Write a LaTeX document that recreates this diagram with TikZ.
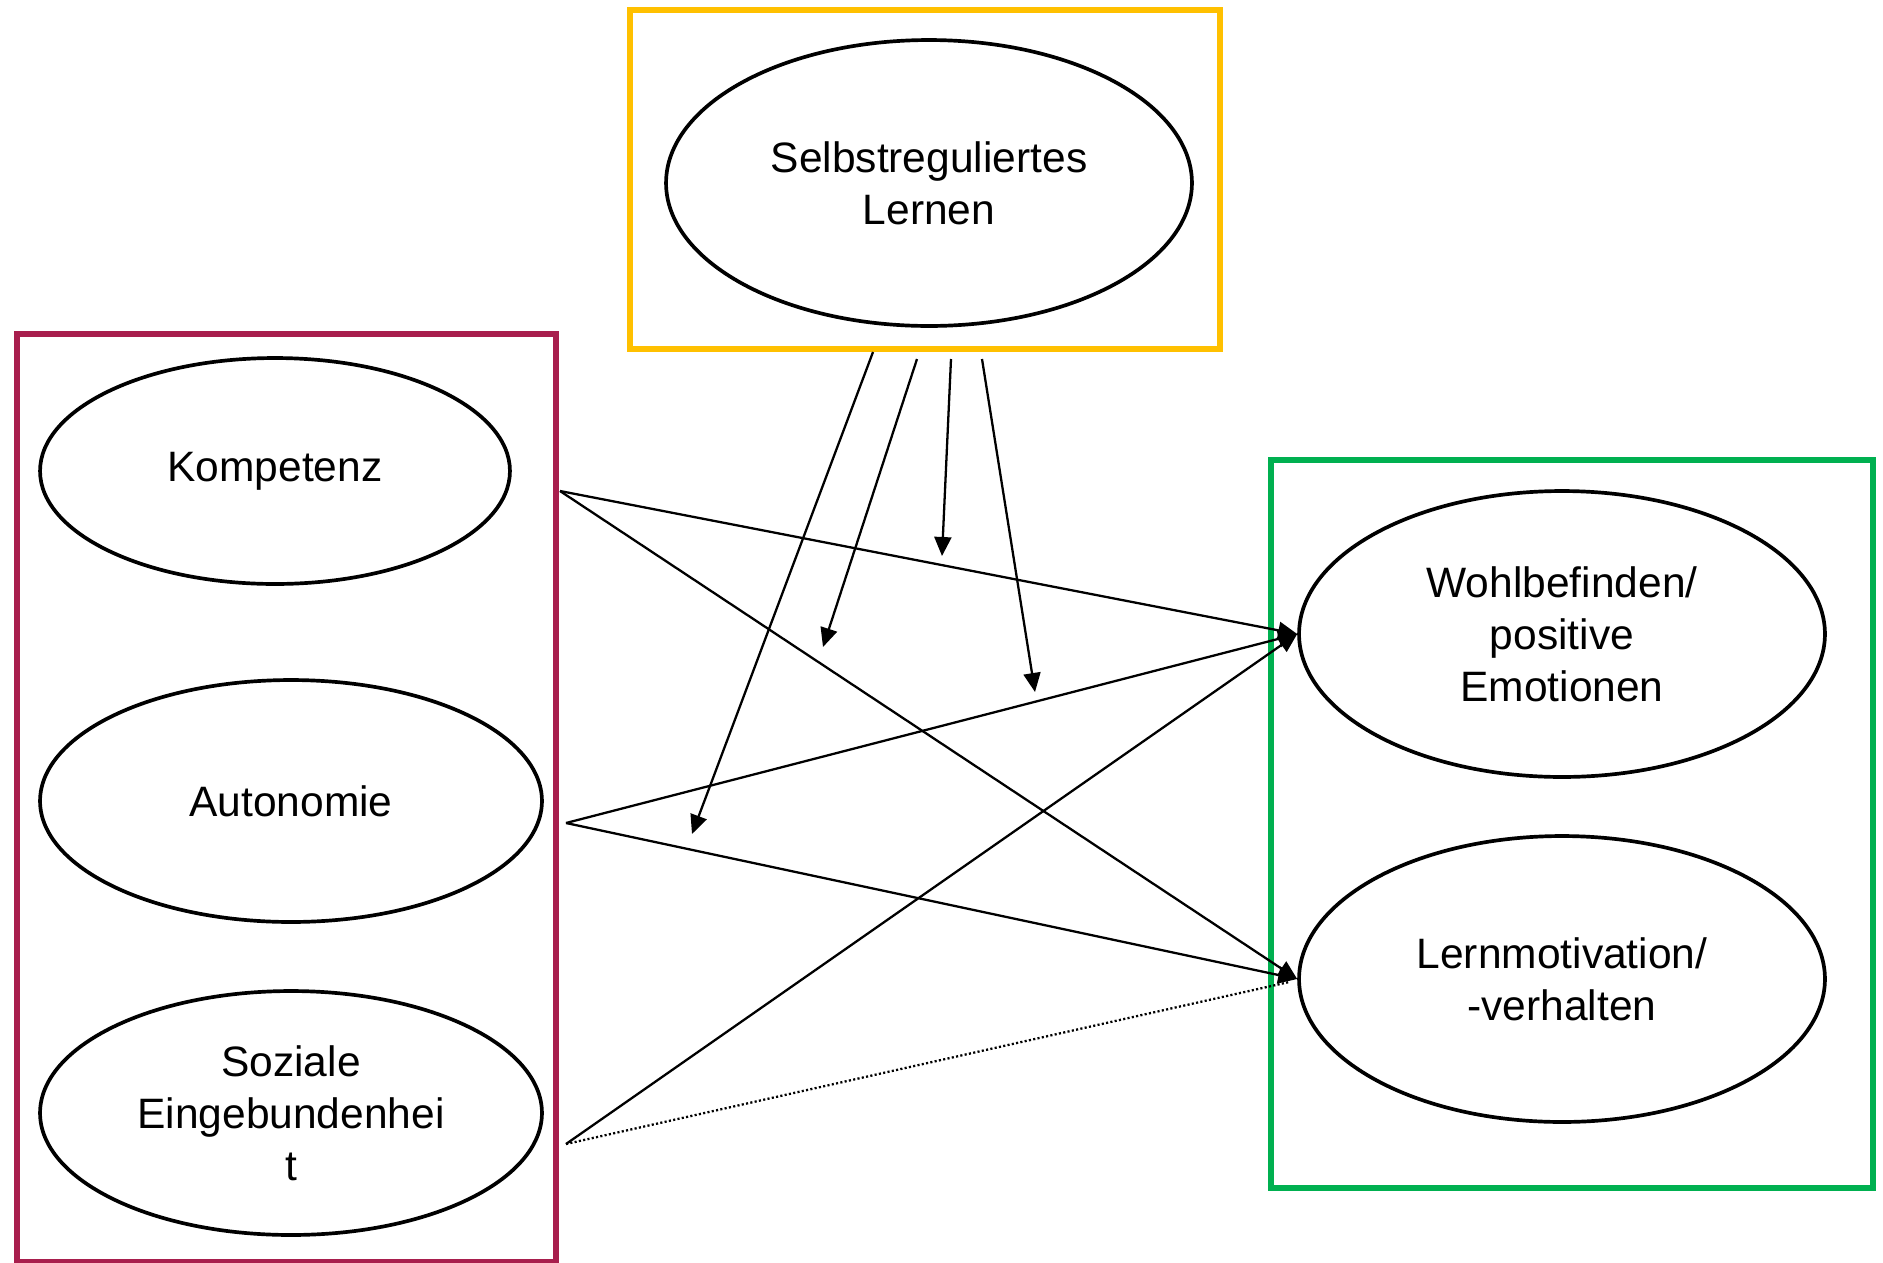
\documentclass[tikz,border=0pt]{standalone}
\usepackage{fontspec}
\setmainfont{Liberation Sans}
\usetikzlibrary{arrows.meta,shapes.geometric,calc,positioning}

\definecolor{boxred}{HTML}{A81E4D}
\definecolor{boxyellow}{HTML}{FFC000}
\definecolor{boxgreen}{HTML}{00B050}

\tikzset{
  construct/.style={ellipse, draw, line width=2.1pt, align=center, inner sep=0pt,
                    font=\fontsize{24.2}{29.5}\selectfont},
  group/.style={draw, line width=3pt},
  effect/.style={-{Triangle[length=0.38cm,width=0.34cm]}, line width=1.3pt},
}

\begin{document}
\begin{tikzpicture}[x=0.02cm,y=-0.02cm]
    \useasboundingbox (0,0) rectangle (1883,1262);

    % groups
    \draw[group, boxyellow] (630,10)   rectangle (1220,349);
    \draw[group, boxred]    (17,334)   rectangle (556,1262);
    \draw[group, boxgreen]  (1271,460) rectangle (1873,1188);

    \node[construct, minimum width=10.52cm, minimum height=5.72cm] (selbst) at (929,183)  {Selbstreguliertes\\Lernen};
    \node[construct, minimum width=9.4cm,   minimum height=4.52cm] (komp)   at (275,471)  {\raisebox{-0.12cm}{Kompetenz}};
    \node[construct, minimum width=10.04cm, minimum height=4.84cm] (auto)   at (291,801)  {Autonomie};
    \node[construct, minimum width=10.04cm, minimum height=4.88cm] (sozi)   at (291,1113) {Soziale\\Eingebundenhei\\t};
    \node[construct, minimum width=10.52cm, minimum height=5.72cm] (wohl)   at (1562,634) {Wohlbefinden/\\positive\\Emotionen};
    \node[construct, minimum width=10.52cm, minimum height=5.72cm] (lern)   at (1562,979) {Lernmotivation/\\-verhalten};

    \coordinate (kompOut) at (560,491);
    \coordinate (autoOut) at (566,823);
    \coordinate (soziOut) at (566,1144);
    \coordinate (lernDot) at ($(lern.west) + (-8,3)$);

    \draw[effect] (kompOut) -- (wohl.west);
    \draw[effect] (kompOut) -- (lern.west);
    \draw[effect] (autoOut) -- (wohl.west);
    \draw[effect] (autoOut) -- (lern.west);
    \draw[effect] (soziOut) -- (wohl.west);
    \draw[line width=1.3pt, dash pattern=on 1.2pt off 1.3pt] (soziOut) -- (lernDot);

    % moderation by self-regulated learning
    \coordinate (sA) at (873,352);  \coordinate (mA) at (692,834);
    \coordinate (sB) at (917,359);  \coordinate (mB) at (823,647);
    \coordinate (sC) at (951,359);  \coordinate (mC) at (942,556);
    \coordinate (sD) at (982,359);  \coordinate (mD) at (1035,692);

    \draw[effect] (sA) -- (mA);
    \draw[effect] (sB) -- (mB);
    \draw[effect] (sC) -- (mC);
    \draw[effect] (sD) -- (mD);
\end{tikzpicture}
\end{document}
